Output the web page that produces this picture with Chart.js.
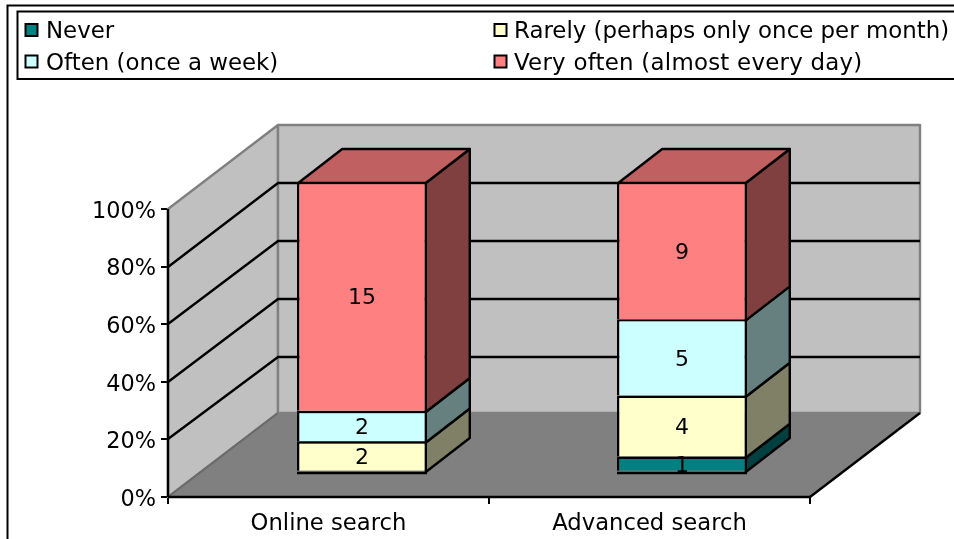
<!DOCTYPE html>
<html><head><meta charset="utf-8">
<style>html,body{margin:0;padding:0;background:#fff;overflow:hidden}canvas{display:block}</style>
<script src="https://cdn.jsdelivr.net/npm/chart.js@4/dist/chart.umd.min.js"></script>
</head><body>
<div style="position:relative;width:954px;height:539px"><canvas id="c" width="954" height="539"></canvas></div>
<script>
const categories = ["Online search", "Advanced search"];
const seriesNames = ["Never", "Rarely (perhaps only once per month)", "Often (once a week)", "Very often (almost every day)"];
const never = [0, 1];
const rarely = [2, 4];
const often = [2, 5];
const veryOften = [15, 9];
const yTicks = [0, 20, 40, 60, 80, 100];
const faceColors = ["#008080", "#FFFFCC", "#CCFFFF", "#FF8080"];
const sideColors = ["#004040", "#808066", "#668080", "#804040"];
const topColors = ["#006060", "#C0C099", "#99C0C0", "#C06060"];
const legendSpacing = ["0px", "0px", "0px", "0.24px"];

const FONT = '"DejaVu Sans", sans-serif';
const LW = 2.4;
const series = [never, rarely, often, veryOften];
const totals = categories.map((_, i) => series.reduce((a, s) => a + s[i], 0));
const WALL = {dx: 110, dy: -84, gridScale: 58 / 57.6};
const BLOCK = {rise: 24, sy: 290 / 288, sx: 320 / 321, shift: 33.5};
const BAR_DEPTH = {dx: 44, dy: -34};

function poly(ctx, pts, fill, stroke, lw) {
  ctx.beginPath();
  pts.forEach((p, i) => i ? ctx.lineTo(p[0], p[1]) : ctx.moveTo(p[0], p[1]));
  ctx.closePath();
  if (fill) { ctx.fillStyle = fill; ctx.fill(); }
  if (stroke) { ctx.strokeStyle = stroke; ctx.lineWidth = lw; ctx.lineJoin = "round"; ctx.stroke(); }
}
function line(ctx, pts, color, lw) {
  ctx.beginPath();
  pts.forEach((p, i) => i ? ctx.lineTo(p[0], p[1]) : ctx.moveTo(p[0], p[1]));
  ctx.strokeStyle = color; ctx.lineWidth = lw; ctx.stroke();
}
// The bar block stands inside the 3D box: map axis pixels to its front plane
function blockY(chart, py) {
  const b = chart.chartArea.bottom;
  return b - BLOCK.rise + (py - b) * BLOCK.sy;
}
function blockX(chart, px) {
  const x0 = chart.scales.x.getPixelForValue(0);
  return x0 + BLOCK.shift + (px - x0) * BLOCK.sx;
}

const frame = {
  id: "frame",
  beforeDraw(chart) {
    const ctx = chart.ctx;
    ctx.save();
    ctx.fillStyle = "#fff"; ctx.fillRect(0, 0, 954, 539);
    ctx.strokeStyle = "#000"; ctx.lineWidth = 2;
    ctx.strokeRect(7.5, 5.5, 1000, 600);
    ctx.strokeRect(17.5, 11.5, 1000, 67.5);
    // legend, filled row by row in two columns
    ctx.font = "22.9px " + FONT; ctx.textBaseline = "alphabetic"; ctx.textAlign = "left";
    seriesNames.forEach((name, i) => {
      const col = i % 2, row = Math.floor(i / 2);
      const bx = col ? 494.5 : 25.5, by = row ? 55.5 : 24;
      ctx.fillStyle = faceColors[i]; ctx.fillRect(bx, by, 12, 12);
      ctx.strokeStyle = "#000"; ctx.lineWidth = 2; ctx.strokeRect(bx, by, 12, 12);
      ctx.fillStyle = "#000";
      ctx.letterSpacing = legendSpacing[i];
      ctx.fillText(name, col ? 514 : 46, row ? 70 : 38);
    });
    ctx.letterSpacing = "0px";
    ctx.restore();
  },
  beforeDatasetsDraw(chart) {
    const ctx = chart.ctx, a = chart.chartArea, y = chart.scales.y;
    const {dx, dy, gridScale} = WALL;
    ctx.save();
    // walls
    poly(ctx, [[a.left, a.bottom], [a.left, a.top], [a.left + dx, a.top + dy], [a.left + dx, a.bottom + dy]], "#C0C0C0", "#808080", LW);
    poly(ctx, [[a.left + dx, a.top + dy], [a.right + dx, a.top + dy], [a.right + dx, a.bottom + dy], [a.left + dx, a.bottom + dy]], "#C0C0C0", "#808080", LW);
    // gridlines running along side wall and back wall
    yTicks.slice(1, -1).forEach(v => {
      const py = y.getPixelForValue(v);
      const back = Math.round(a.top + dy + (py - a.top) * gridScale);
      line(ctx, [[a.left, Math.round(py)], [a.left + dx, back], [a.right + dx, back]], "#000", LW);
    });
    // floor
    poly(ctx, [[a.left, a.bottom], [a.left + dx, a.bottom + dy], [a.right + dx, a.bottom + dy], [a.right, a.bottom]], "#808080", null, 0);
    line(ctx, [[a.left, a.bottom], [a.left + dx, a.bottom + dy]], "#6a6a6a", 2);
    line(ctx, [[a.right, a.bottom], [a.right + dx, a.bottom + dy]], "#000", LW);
    line(ctx, [[a.left, a.bottom], [a.left, a.top]], "#000", LW);
    line(ctx, [[a.left, a.bottom], [a.right, a.bottom]], "#000", LW);
    // bar side and top faces
    const last = chart.data.datasets.length - 1;
    chart.data.datasets.forEach((ds, di) => {
      chart.getDatasetMeta(di).data.forEach((el, i) => {
        if (!series[di][i]) return;
        const r = blockX(chart, el.x + el.width / 2) - LW / 2, l = blockX(chart, el.x - el.width / 2) + LW / 2;
        const t = blockY(chart, el.y), b = blockY(chart, el.base);
        const ox = BAR_DEPTH.dx, oy = BAR_DEPTH.dy;
        poly(ctx, [[r, t], [r + ox, t + oy], [r + ox, b + oy], [r, b]], sideColors[di], "#000", LW);
        if (di === last) poly(ctx, [[l, t], [l + ox, t + oy], [r + ox, t + oy], [r, t]], topColors[di], "#000", LW);
      });
    });
    ctx.restore();
    ctx.save();
    // front faces: same mapping, less the inset the library gives a top border
    const x0 = chart.scales.x.getPixelForValue(0);
    ctx.translate(x0 + BLOCK.shift - x0 * BLOCK.sx, blockY(chart, 0) - LW / 2);
    ctx.scale(BLOCK.sx, BLOCK.sy);
  },
  afterDatasetsDraw(chart) {
    const ctx = chart.ctx;
    ctx.restore();
    ctx.save();
    // bottom edge of each bar block
    categories.forEach((_, i) => {
      const el = chart.getDatasetMeta(0).data[i];
      const l = blockX(chart, el.x - el.width / 2), r = blockX(chart, el.x + el.width / 2);
      const b = blockY(chart, chart.chartArea.bottom);
      line(ctx, [[l, b], [r, b]], "#000", LW);
    });
    ctx.font = "22px " + FONT; ctx.fillStyle = "#000";
    ctx.textAlign = "center"; ctx.textBaseline = "alphabetic";
    chart.data.datasets.forEach((ds, di) => {
      chart.getDatasetMeta(di).data.forEach((el, i) => {
        if (!series[di][i]) return;
        ctx.fillText(String(series[di][i]), blockX(chart, el.x), blockY(chart, (el.y + el.base) / 2) + 7);
      });
    });
    ctx.restore();
  }
};

new Chart(document.getElementById("c"), {
  type: "bar",
  plugins: [frame],
  data: {
    labels: categories,
    datasets: seriesNames.map((name, di) => ({
      label: name,
      data: series[di].map((v, i) => v / totals[i] * 100),
      backgroundColor: faceColors[di],
      borderColor: "#000",
      borderSkipped: false,
      borderWidth: series[di].map(v => v ? {top: LW, left: LW, right: LW, bottom: 0} : 0),
      categoryPercentage: 1,
      barPercentage: 0.4062
    }))
  },
  options: {
    responsive: false,
    animation: false,
    layout: {padding: {top: 209, right: 144, left: 0, bottom: 0}},
    plugins: {legend: {display: false}, tooltip: {enabled: false}, title: {display: false}},
    scales: {
      x: {
        stacked: true,
        afterFit(s) { s.height = 42; },
        grid: {offset: true, drawOnChartArea: false, drawTicks: true, tickLength: 7, color: "#000", lineWidth: 2},
        border: {display: false},
        ticks: {color: "#000", font: {family: FONT, size: 22.7}, padding: 6, maxRotation: 0}
      },
      y: {
        stacked: true, min: 0, max: 100,
        afterFit(s) { s.width = 168; },
        afterBuildTicks(s) { s.ticks = yTicks.map(v => ({value: v})); },
        grid: {drawOnChartArea: false, tickLength: 7, color: "#000", lineWidth: 2},
        border: {display: false},
        ticks: {color: "#000", font: {family: FONT, size: 22.4}, padding: 5, labelOffset: 3, callback: v => v + "%"}
      }
    }
  }
});
</script>
</body></html>
